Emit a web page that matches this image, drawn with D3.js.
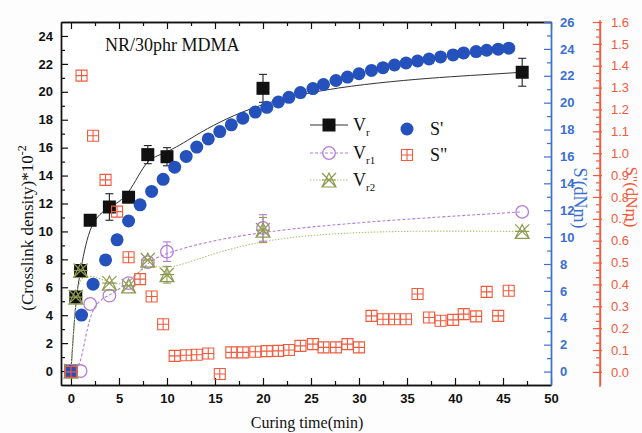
<!DOCTYPE html>
<html><head><meta charset="utf-8">
<script src="https://cdn.jsdelivr.net/npm/d3@7"></script>
<style>body{margin:0;background:#fff}svg{display:block}</style>
</head><body><svg id="c" width="642" height="433"></svg>
<script>
// ---- data ----
const tV   = [0, 0.5, 1, 2, 4, 6, 8, 10, 20, 47];
const vr   = [0, 5.3, 7.2, 10.8, 11.75, 12.45, 15.5, 15.35, 20.25, 21.4];
const vrErr= [0, 0, 0, 0, 0.95, 0, 0.65, 0.65, 1.0, 1.0];
const tV1  = [0, 1, 2, 4, 6, 8, 10, 20, 47];
const vr1  = [0, 0, 4.8, 5.4, 6.3, 7.8, 8.55, 10.25, 11.4];
const vr1Err=[0, 0, 0, 0, 0, 0, 0.7, 0.95, 0];
const tV2  = [0, 0.5, 1, 4, 6, 8, 10, 20, 47];
const vr2  = [0, 5.3, 7.2, 6.3, 6.1, 7.95, 6.9, 10.1, 10.0];
const vr2Err=[0, 0, 0, 0, 0, 0, 0.6, 0.9, 0];
const tS   = [0, 1.1, 2.3, 3.6, 4.8, 6.0, 7.2, 8.4, 9.6, 10.8, 12.0, 13.1, 14.3, 15.5, 16.7, 17.9, 19.2, 20.4, 21.6, 22.7, 23.9, 25.2, 26.3, 27.6, 28.8, 30.0, 31.3, 32.5, 33.7, 34.9, 36.1, 37.3, 38.5, 39.8, 40.9, 42.2, 43.3, 44.5, 45.6];
const sP   = [0, 4.2, 6.5, 8.3, 9.8, 11.2, 12.4, 13.4, 14.3, 15.2, 16.0, 16.7, 17.3, 17.85, 18.35, 18.85, 19.3, 19.65, 20.05, 20.4, 20.75, 21.05, 21.35, 21.65, 21.9, 22.15, 22.4, 22.6, 22.8, 22.95, 23.1, 23.25, 23.4, 23.55, 23.7, 23.8, 23.9, 23.98, 24.05];
const sPP  = [0, 1.355, 1.08, 0.878, 0.733, 0.524, 0.424, 0.345, 0.218, 0.073, 0.076, 0.078, 0.084, -0.01, 0.089, 0.089, 0.092, 0.095, 0.096, 0.10, 0.119, 0.127, 0.112, 0.112, 0.127, 0.112, 0.256, 0.241, 0.241, 0.241, 0.356, 0.249, 0.234, 0.238, 0.264, 0.254, 0.366, 0.256, 0.371];
const xTicks = [0, 5, 10, 15, 20, 25, 30, 35, 40, 45, 50];
const yLTicks = [0, 2, 4, 6, 8, 10, 12, 14, 16, 18, 20, 22, 24];
const yBTicks = [0, 2, 4, 6, 8, 10, 12, 14, 16, 18, 20, 22, 24, 26];
const yRTicks = [0.0, 0.1, 0.2, 0.3, 0.4, 0.5, 0.6, 0.7, 0.8, 0.9, 1.0, 1.1, 1.2, 1.3, 1.4, 1.5, 1.6];
const titleText = "NR/30phr MDMA";

// ---- scales ----
const L = 61, R = 551, T = 22, B = 385, RX = 600;
const x  = d3.scaleLinear([-1.04, 50], [L, R]);
const yL = d3.scaleLinear([-1, 25], [B, T]);
const yB = d3.scaleLinear([-1, 26], [B, T]);
const yR = d3.scaleLinear([-0.06, 1.6], [B, T]);

const svg = d3.select("#c");
const sans = "'Liberation Sans', Arial, sans-serif";
const serif = "'Liberation Serif', 'Times New Roman', serif";
const cBlk = "#111", cPur = "#b47cd8", cOli = "#8f9a52", cBlue = "#2451bb", cBlueAx = "#3b6fd0", cRed = "#f25a3c";

svg.append("rect").attr("width", 642).attr("height", 433).attr("fill", "#fdfdfe");
svg.append("rect").attr("x", L).attr("y", T).attr("width", R - L).attr("height", B - T).attr("fill", "#fff");

function styleAxis(g, color, fs, weight) {
  g.selectAll("path.domain").attr("stroke", color).attr("stroke-width", 1.4);
  g.selectAll(".tick line").attr("stroke", color).attr("stroke-width", 1.2);
  g.selectAll(".tick text").attr("fill", color).attr("font-family", sans).attr("font-size", fs).attr("font-weight", weight);
}
const minorX = d3.range(2.5, 50, 5);
const minorL = d3.range(1, 25, 2);
const minorB = d3.range(1, 26, 2);
const minorR = d3.range(0, 1.6, 0.1).flatMap(v => [v + 0.1/3, v + 0.2/3]);

// bottom
let g = svg.append("g").attr("transform", `translate(0,${B})`)
  .call(d3.axisBottom(x).tickValues(xTicks).tickSizeInner(-7).tickSizeOuter(0).tickPadding(9).tickFormat(d3.format("d")));
styleAxis(g, cBlk, 13, "bold");
g = svg.append("g").attr("transform", `translate(0,${B})`)
  .call(d3.axisBottom(x).tickValues(minorX).tickSizeInner(-4).tickSizeOuter(0).tickFormat(""));
styleAxis(g, cBlk, 13, "bold");
// top
g = svg.append("g").attr("transform", `translate(0,${T})`)
  .call(d3.axisTop(x).tickValues(xTicks).tickSizeInner(-7).tickSizeOuter(0).tickFormat(""));
styleAxis(g, cBlk, 13, "bold");
g = svg.append("g").attr("transform", `translate(0,${T})`)
  .call(d3.axisTop(x).tickValues(minorX).tickSizeInner(-4).tickSizeOuter(0).tickFormat(""));
styleAxis(g, cBlk, 13, "bold");
// left
g = svg.append("g").attr("transform", `translate(${L},0)`)
  .call(d3.axisLeft(yL).tickValues(yLTicks).tickSizeInner(-7).tickSizeOuter(0).tickPadding(8).tickFormat(d3.format("d")));
styleAxis(g, cBlk, 13, "bold");
g = svg.append("g").attr("transform", `translate(${L},0)`)
  .call(d3.axisLeft(yL).tickValues(minorL).tickSizeInner(-4).tickSizeOuter(0).tickFormat(""));
styleAxis(g, cBlk, 13, "bold");
// right blue
g = svg.append("g").attr("transform", `translate(${R},0)`)
  .call(d3.axisRight(yB).tickValues(yBTicks).tickSizeInner(-7).tickSizeOuter(0).tickPadding(9).tickFormat(d3.format("d")));
styleAxis(g, cBlueAx, 13, "bold");
g = svg.append("g").attr("transform", `translate(${R},0)`)
  .call(d3.axisRight(yB).tickValues(minorB).tickSizeInner(-4).tickSizeOuter(0).tickFormat(""));
styleAxis(g, cBlueAx, 13, "bold");
// right red
g = svg.append("g").attr("transform", `translate(${RX},0)`)
  .call(d3.axisRight(yR).tickValues(yRTicks).tickSizeInner(-7).tickSizeOuter(0).tickPadding(11).tickFormat(d3.format(".1f")));
styleAxis(g, cRed, 13, "normal");
g.selectAll(".tick line").attr("x2", 2).attr("x1", -7);
g.select("path.domain").attr("d", `M0,${B + 2}V${T - 2}`);
g = svg.append("g").attr("transform", `translate(${RX},0)`)
  .call(d3.axisRight(yR).tickValues(minorR).tickSizeInner(-4).tickSizeOuter(0).tickFormat(""));
styleAxis(g, cRed, 13, "normal");

// ---- lines ----
const plot = svg.append("g");
function series(ts, vs) { return ts.map((t, i) => [t, vs[i]]); }
const lineL = d3.line().x(d => x(d[0])).y(d => yL(d[1])).curve(d3.curveBasis);
plot.append("path").attr("d", lineL(series(tV, vr))).attr("fill", "none").attr("stroke", "#333").attr("stroke-width", 1);
plot.append("path").attr("d", lineL(series(tV1, vr1))).attr("fill", "none").attr("stroke", cPur).attr("stroke-width", 1.1).attr("stroke-dasharray", "3,2");
plot.append("path").attr("d", lineL(series(tV2, vr2))).attr("fill", "none").attr("stroke", "#b9bd7a").attr("stroke-width", 1.1).attr("stroke-dasharray", "1.5,1.5");

// ---- error bars ----
function errBars(ts, vs, es, color) {
  ts.forEach((t, i) => {
    if (!es[i]) return;
    const cx = x(t), y1 = yL(vs[i] + es[i]), y2 = yL(vs[i] - es[i]);
    const e = plot.append("g").attr("stroke", color).attr("stroke-width", 1.1);
    e.append("line").attr("x1", cx).attr("x2", cx).attr("y1", y1).attr("y2", y2);
    e.append("line").attr("x1", cx - 4).attr("x2", cx + 4).attr("y1", y1).attr("y2", y1);
    e.append("line").attr("x1", cx - 4).attr("x2", cx + 4).attr("y1", y2).attr("y2", y2);
  });
}
errBars(tV, vr, vrErr, "#222");
errBars(tV1, vr1, vr1Err, cPur);
errBars(tV2, vr2, vr2Err, cOli);

// ---- markers ----
function sq(gg, cx, cy) { gg.append("rect").attr("x", cx - 6.5).attr("y", cy - 6.5).attr("width", 13).attr("height", 13).attr("fill", cBlk); }
function oc(gg, cx, cy) { gg.append("circle").attr("cx", cx).attr("cy", cy).attr("r", 6.3).attr("fill", "none").attr("stroke", cPur).attr("stroke-width", 1.3); }
function xt(gg, cx, cy) {
  const s = 7;
  gg.append("path").attr("d", `M${cx},${cy - s}L${cx + s},${cy + s}L${cx - s},${cy + s}Z M${cx - s},${cy - s}L${cx + s},${cy + s} M${cx + s},${cy - s}L${cx - s},${cy + s} M${cx - s},${cy}L${cx + s},${cy}`)
    .attr("fill", "none").attr("stroke", cOli).attr("stroke-width", 1.2);
}
function bc(gg, cx, cy) { gg.append("circle").attr("cx", cx).attr("cy", cy).attr("r", 6.5).attr("fill", cBlue); }
function rs(gg, cx, cy) {
  const s = 5.5;
  gg.append("path").attr("d", `M${cx - s},${cy - s}H${cx + s}V${cy + s}H${cx - s}Z M${cx},${cy - s}V${cy + s} M${cx - s},${cy}H${cx + s}`)
    .attr("fill", "none").attr("stroke", cRed).attr("stroke-width", 1.1);
}
tV.forEach((t, i) => sq(plot, x(t), yL(vr[i])));
tV1.forEach((t, i) => oc(plot, x(t), yL(vr1[i])));
tV2.forEach((t, i) => xt(plot, x(t), yL(vr2[i])));
tS.forEach((t, i) => bc(plot, x(t), yB(sP[i])));
tS.forEach((t, i) => rs(plot, x(t), yR(sPP[i])));

// ---- legend ----
const lg = svg.append("g");
const lx1 = 310, lx2 = 348, lm = 329, ltx = 353;
[[125, "#333", null, sq, "r"], [153, cPur, "3,2", oc, "r1"], [180, "#b9bd7a", "1.5,1.5", xt, "r2"]].forEach(([yy, col, dash, fn, sub]) => {
  const ln = lg.append("line").attr("x1", lx1).attr("x2", lx2).attr("y1", yy).attr("y2", yy).attr("stroke", col).attr("stroke-width", 1.1);
  if (dash) ln.attr("stroke-dasharray", dash);
  fn(lg, lm, yy);
  const tx = lg.append("text").attr("x", ltx).attr("y", yy + 6).attr("font-family", serif).attr("font-size", 18).attr("fill", "#111").text("V");
  tx.append("tspan").attr("font-size", 11).attr("dy", 5).text(sub);
});
bc(lg, 407, 129);
lg.append("text").attr("x", 430).attr("y", 135).attr("font-family", serif).attr("font-size", 18).attr("fill", "#111").text("S'");
rs(lg, 407, 155);
lg.append("text").attr("x", 430).attr("y", 161).attr("font-family", serif).attr("font-size", 18).attr("fill", "#111").text("S\"");

// ---- titles ----
svg.append("text").attr("x", 105).attr("y", 51).attr("font-family", serif).attr("font-size", 18).attr("fill", "#111").text(titleText);
svg.append("text").attr("x", 307).attr("y", 428).attr("text-anchor", "middle").attr("font-family", serif).attr("font-size", 16).attr("fill", "#111").text("Curing time(min)");
const lt = svg.append("text").attr("transform", "translate(33,228) rotate(-90)").attr("text-anchor", "middle").attr("font-family", serif).attr("font-size", 17).attr("fill", "#111");
lt.append("tspan").text("(Crosslink density)*10");
lt.append("tspan").attr("font-size", 12).attr("dy", -7).text("-2");
svg.append("text").attr("transform", "translate(574,198) rotate(90)").attr("text-anchor", "middle").attr("font-family", serif).attr("font-size", 18).attr("fill", cBlueAx).text("S'(dNm)");
svg.append("text").attr("transform", "translate(626,197) rotate(90)").attr("text-anchor", "middle").attr("font-family", serif).attr("font-size", 17).attr("fill", cRed).text("S''(dNm)");
</script></body></html>
